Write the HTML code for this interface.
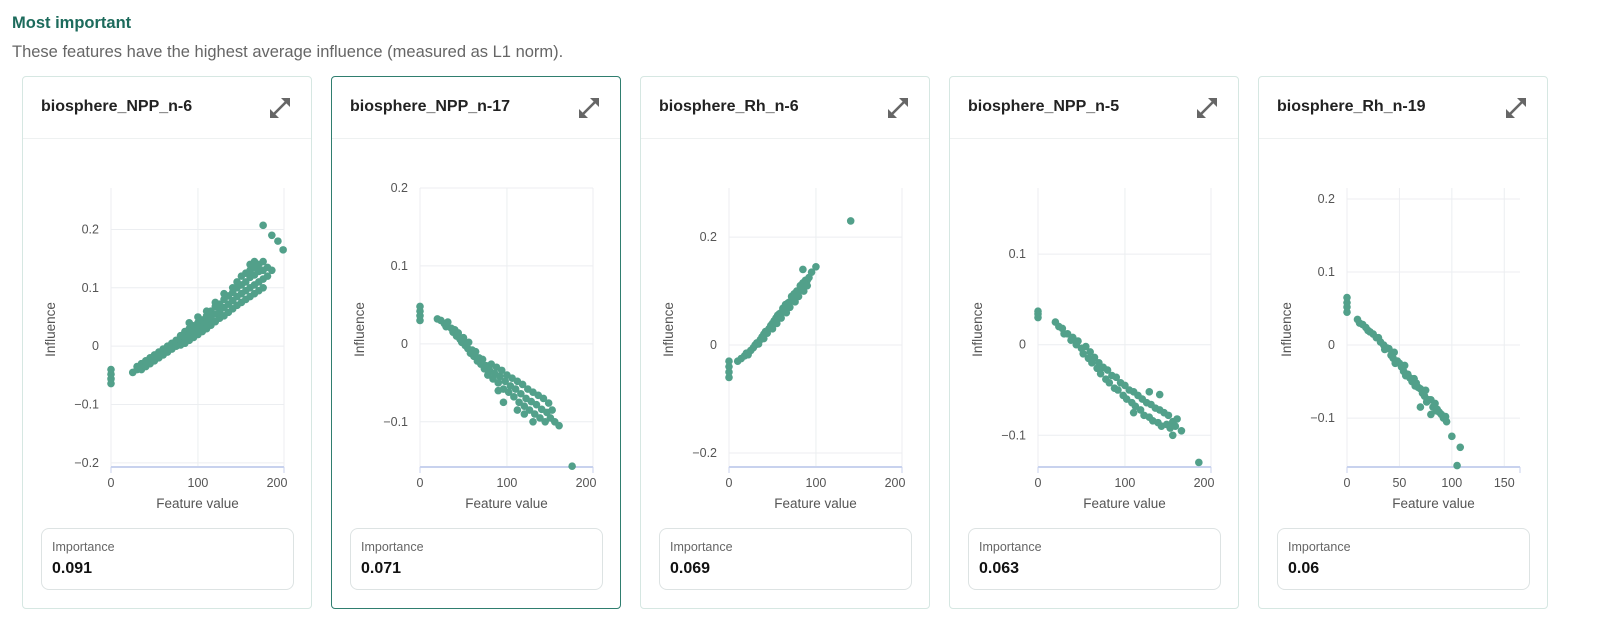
<!DOCTYPE html>
<html><head><meta charset="utf-8">
<style>
body{margin:0;width:1600px;height:639px;background:#fff;font-family:"Liberation Sans",sans-serif;position:relative;overflow:hidden}
h2{position:absolute;left:12px;top:14px;margin:0;font-size:16.5px;font-weight:bold;color:#1d6b5c}
.sub{position:absolute;left:12px;top:43px;font-size:16.5px;color:#666}
.card{position:absolute;top:76px;width:288px;height:531px;border:1px solid #d6e7e2;border-radius:4px;background:#fff}
.card.sel{border-color:#2f7e6f}
.hdr{position:absolute;left:0;right:0;top:0;height:61px;border-bottom:1px solid #eef1f1}
.title{position:absolute;left:18px;top:21px;font-size:16px;font-weight:bold;color:#222}
.exp{position:absolute;right:18px;top:18px;width:26px;height:26px}
.imp{position:absolute;left:18px;top:451px;width:251px;height:60px;border:1px solid #dde3e3;border-radius:8px}
.imp .l{position:absolute;left:10px;top:11px;font-size:12.5px;color:#666}
.imp .v{position:absolute;left:10px;top:31px;font-size:16px;font-weight:bold;color:#111}
svg.ch{position:absolute;left:0;top:0}
</style></head><body>
<h2>Most important</h2>
<div class="sub">These features have the highest average influence (measured as L1 norm).</div>
<div id="cards"></div>
<script>
const featureNames=["biosphere_NPP_n-6","biosphere_NPP_n-17","biosphere_Rh_n-6","biosphere_NPP_n-5","biosphere_Rh_n-19"];
const importances=["0.091","0.071","0.069","0.063","0.06"];
const xDomains=[[0,199],[0,199],[0,199],[0,199],[0,165]];
const yDomains=[[-0.207,0.271],[-0.158,0.2],[-0.226,0.291],[-0.135,0.173],[-0.167,0.215]];
const xTicks=[[0,100,200],[0,100,200],[0,100,200],[0,100,200],[0,50,100,150]];
const yTicks=[[-0.2,-0.1,0,0.1,0.2],[-0.1,0,0.1,0.2],[-0.2,0,0.2],[-0.1,0,0.1],[-0.1,0,0.1,0.2]];
const seriesNPP6=[[0,-0.04],[0,-0.048],[0,-0.056],[0,-0.064],[25,-0.045],[30,-0.04],[30,-0.035],[35,-0.035],[35,-0.03],[35,-0.04],[40,-0.03],[40,-0.025],[40,-0.035],[45,-0.025],[45,-0.03],[45,-0.02],[50,-0.02],[50,-0.015],[50,-0.025],[55,-0.015],[55,-0.01],[55,-0.02],[60,-0.01],[60,-0.005],[60,-0.015],[65,-0.005],[65,0],[65,-0.01],[70,0],[70,0.005],[70,-0.005],[75,0.005],[75,0.01],[75,0],[80,0.01],[80,0.018],[80,0.002],[85,0.015],[85,0.025],[85,0.005],[90,0.02],[90,0.03],[90,0.01],[90,0.04],[95,0.025],[95,0.035],[95,0.015],[100,0.03],[100,0.04],[100,0.02],[100,0.05],[105,0.035],[105,0.045],[105,0.025],[110,0.04],[110,0.052],[110,0.03],[110,0.06],[115,0.048],[115,0.06],[115,0.036],[120,0.055],[120,0.068],[120,0.042],[120,0.075],[125,0.06],[125,0.072],[125,0.048],[130,0.066],[130,0.08],[130,0.052],[130,0.09],[135,0.072],[135,0.086],[135,0.058],[140,0.078],[140,0.092],[140,0.064],[140,0.1],[145,0.085],[145,0.1],[145,0.07],[145,0.11],[150,0.09],[150,0.105],[150,0.075],[150,0.12],[155,0.095],[155,0.11],[155,0.08],[155,0.125],[160,0.1],[160,0.118],[160,0.085],[160,0.13],[160,0.14],[165,0.105],[165,0.122],[165,0.09],[165,0.135],[165,0.145],[170,0.11],[170,0.128],[170,0.095],[170,0.14],[175,0.115],[175,0.13],[175,0.1],[175,0.145],[175,0.207],[180,0.12],[180,0.135],[185,0.13],[185,0.19],[192,0.18],[198,0.165]];
const seriesNPP17=[[0,0.03],[0,0.036],[0,0.042],[0,0.048],[20,0.032],[24,0.03],[28,0.026],[30,0.022],[32,0.028],[36,0.02],[38,0.015],[40,0.018],[42,0.01],[44,0.014],[46,0.006],[48,0.002],[50,0.008],[52,-0.002],[55,-0.006],[56,0.002],[58,-0.012],[60,-0.008],[62,-0.016],[64,-0.01],[66,-0.022],[68,-0.018],[70,-0.026],[72,-0.02],[74,-0.032],[76,-0.028],[78,-0.04],[80,-0.034],[82,-0.026],[84,-0.045],[86,-0.038],[88,-0.03],[90,-0.05],[92,-0.042],[94,-0.034],[96,-0.058],[98,-0.048],[100,-0.04],[102,-0.062],[104,-0.054],[106,-0.044],[108,-0.068],[110,-0.058],[112,-0.048],[114,-0.075],[116,-0.064],[118,-0.052],[120,-0.08],[122,-0.07],[124,-0.058],[126,-0.085],[128,-0.074],[130,-0.062],[132,-0.09],[134,-0.078],[136,-0.066],[138,-0.095],[140,-0.084],[142,-0.07],[144,-0.1],[146,-0.088],[148,-0.076],[150,-0.095],[152,-0.085],[155,-0.1],[160,-0.105],[175,-0.157],[96,-0.075],[112,-0.085],[130,-0.1],[90,-0.06],[120,-0.09]];
const seriesRh6=[[0,-0.03],[0,-0.04],[0,-0.05],[0,-0.06],[10,-0.03],[14,-0.025],[18,-0.02],[20,-0.015],[22,-0.018],[25,-0.01],[28,-0.005],[30,0],[32,0.004],[34,0.002],[36,0.01],[38,0.015],[40,0.02],[40,0.012],[42,0.025],[44,0.022],[46,0.03],[48,0.036],[50,0.04],[50,0.03],[52,0.045],[54,0.05],[55,0.04],[56,0.055],[58,0.058],[60,0.06],[60,0.05],[62,0.068],[64,0.064],[65,0.075],[66,0.06],[68,0.078],[70,0.08],[70,0.07],[72,0.09],[74,0.085],[75,0.095],[76,0.08],[78,0.1],[80,0.1],[80,0.09],[82,0.11],[84,0.105],[85,0.115],[86,0.1],[88,0.12],[90,0.12],[90,0.11],[85,0.14],[95,0.135],[100,0.145],[92,0.125],[140,0.23]];
const seriesNPP5=[[0,0.03],[0,0.034],[0,0.037],[20,0.025],[24,0.02],[28,0.018],[30,0.012],[34,0.012],[38,0.005],[40,0.008],[44,0],[46,0.004],[50,-0.004],[52,-0.01],[55,-0.002],[58,-0.015],[60,-0.008],[62,-0.02],[65,-0.014],[68,-0.026],[70,-0.02],[72,-0.032],[75,-0.025],[78,-0.038],[80,-0.028],[82,-0.042],[85,-0.034],[88,-0.048],[90,-0.036],[92,-0.05],[95,-0.042],[98,-0.056],[100,-0.045],[102,-0.06],[105,-0.05],[108,-0.064],[110,-0.052],[112,-0.068],[115,-0.056],[118,-0.072],[120,-0.06],[122,-0.078],[125,-0.064],[128,-0.08],[130,-0.066],[132,-0.084],[135,-0.07],[138,-0.086],[140,-0.072],[142,-0.09],[145,-0.075],[148,-0.088],[150,-0.078],[152,-0.092],[155,-0.085],[155,-0.1],[158,-0.09],[160,-0.082],[165,-0.095],[110,-0.075],[128,-0.052],[140,-0.055],[185,-0.13]];
const seriesRh19=[[0,0.045],[0,0.052],[0,0.058],[0,0.065],[10,0.035],[12,0.03],[15,0.028],[18,0.024],[20,0.02],[22,0.018],[25,0.015],[28,0.01],[30,0.01],[32,0.004],[35,0],[36,-0.006],[38,-0.004],[40,-0.005],[42,-0.014],[44,-0.018],[45,-0.01],[46,-0.025],[48,-0.022],[50,-0.025],[52,-0.03],[54,-0.036],[55,-0.028],[56,-0.042],[58,-0.04],[60,-0.045],[62,-0.05],[64,-0.046],[65,-0.056],[66,-0.052],[68,-0.058],[70,-0.06],[72,-0.066],[74,-0.07],[75,-0.062],[76,-0.078],[78,-0.075],[80,-0.075],[82,-0.085],[84,-0.08],[85,-0.09],[86,-0.088],[88,-0.092],[90,-0.095],[92,-0.1],[94,-0.098],[95,-0.105],[70,-0.085],[80,-0.095],[100,-0.125],[108,-0.14],[105,-0.165]];
const allSeries=[seriesNPP6,seriesNPP17,seriesRh6,seriesNPP5,seriesRh19];
const cardLefts=[22,331,640,949,1258];
const NS="http://www.w3.org/2000/svg";
const PL=88,PR=261,PT=111,PB=390;
function fmt(v){if(v===0)return"0";return (v<0?"\u2212":"")+String(Math.abs(v));}
const wrap=document.getElementById('cards');
featureNames.forEach((name,i)=>{
  const card=document.createElement('div');
  card.className='card'+(i===1?' sel':'');
  card.style.left=cardLefts[i]+'px';
  
  
  card.innerHTML='<div class="hdr"><div class="title">'+name+'</div>'+
   '<svg class="exp" viewBox="0 0 26 26"><path d="M6 20 L20 6" stroke="#666" stroke-width="2.6" fill="none"/><path d="M23 3 L23 12 L14 3 Z M3 23 L3 14 L12 23 Z" fill="#666"/></svg></div>'+
   '<div class="imp"><div class="l">Importance</div><div class="v">'+importances[i]+'</div></div>';
  const svg=document.createElementNS(NS,'svg');
  svg.setAttribute('class','ch');svg.setAttribute('width','288');svg.setAttribute('height','450');
  
  
  const xd=xDomains[i],yd=yDomains[i];
  const sx=v=>PL+(v-xd[0])/(xd[1]-xd[0])*(PR-PL);
  const sy=v=>PB-(v-yd[0])/(yd[1]-yd[0])*(PB-PT);
  let h='';
  yTicks[i].forEach(t=>{const y=sy(t);h+='<line x1="'+PL+'" x2="'+PR+'" y1="'+y+'" y2="'+y+'" stroke="#eceef1"/>';
    h+='<text x="'+(PL-12)+'" y="'+(y+4)+'" text-anchor="end" font-size="12.5" fill="#555">'+fmt(t)+'</text>';});
  xTicks[i].forEach(t=>{let x=Math.min(sx(t),PR);h+='<line x1="'+x+'" x2="'+x+'" y1="'+PT+'" y2="'+PB+'" stroke="#eceef1"/>';
    h+='<text x="'+(t>xd[1]?x-7:x)+'" y="'+(PB+20)+'" text-anchor="middle" font-size="12.5" fill="#555">'+t+'</text>';});
  h+='<line x1="'+PL+'" x2="'+PR+'" y1="'+PB+'" y2="'+PB+'" stroke="#c8d2ee" stroke-width="2"/>';
  h+='<line x1="'+PR+'" x2="'+PR+'" y1="'+PB+'" y2="'+(PB+6)+'" stroke="#c8d2ee"/><line x1="'+PL+'" x2="'+PL+'" y1="'+PB+'" y2="'+(PB+6)+'" stroke="#c8d2ee"/>';
  h+='<text x="'+((PL+PR)/2)+'" y="'+(PB+41)+'" text-anchor="middle" font-size="13.5" fill="#555">Feature value</text>';
  h+='<text transform="translate(32,'+((PT+PB)/2+2)+') rotate(-90)" text-anchor="middle" font-size="13.5" fill="#555">Influence</text>';
  svg.innerHTML=h;
  allSeries[i].forEach(p=>{const c=document.createElementNS(NS,'circle');
    
    
    c.setAttribute('cx',sx(p[0]));c.setAttribute('cy',sy(p[1]));c.setAttribute('r','3.8');c.setAttribute('fill','#52a08a');svg.appendChild(c);});
  card.appendChild(svg);
  wrap.appendChild(card);
});
</script>
</body></html>
